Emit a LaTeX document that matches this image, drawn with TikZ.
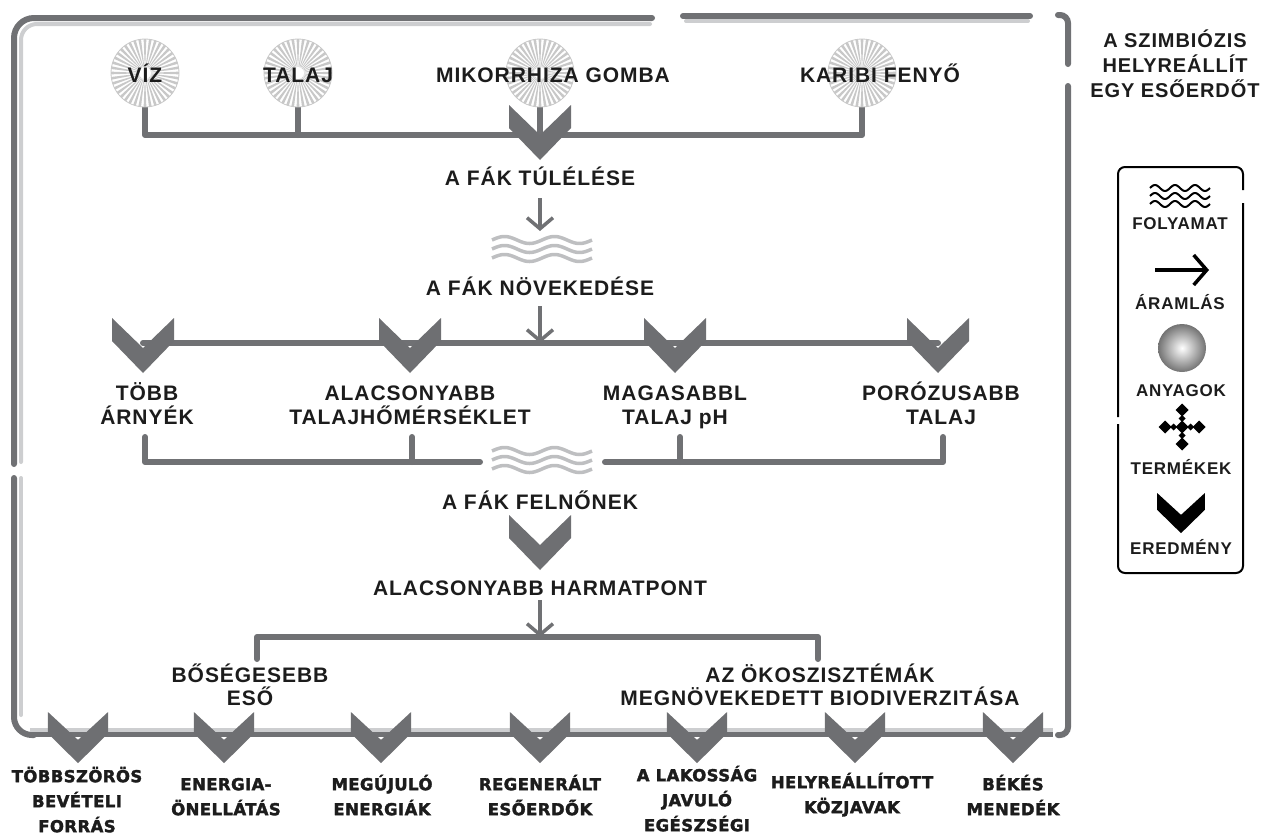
\documentclass[tikz,border=0pt]{standalone}
\usepackage{fontspec}
\setmainfont{Liberation Sans}
\newfontfamily\lab[LetterSpace=4.5]{Liberation Sans}
\newfontfamily\botf[LetterSpace=2.5, FakeBold=2]{DejaVu Sans Bold}
\usetikzlibrary{arrows.meta}
\definecolor{lineg}{RGB}{112,113,116}
\definecolor{lightg}{RGB}{205,206,208}
\definecolor{waveg}{RGB}{190,191,193}
\definecolor{chevc}{RGB}{110,111,114}
\definecolor{rayg}{RGB}{200,200,200}
\definecolor{txt}{RGB}{28,28,28}
\tikzset{
 lbl/.style={font=\lab\bfseries\fontsize{21}{23.5}\selectfont, text=txt, align=center, inner sep=0pt},
 bot/.style={font=\botf\fontsize{16.5}{25}\selectfont, text=txt, align=center, inner sep=0pt, anchor=north},
 leg/.style={font=\lab\bfseries\fontsize{17}{20}\selectfont, text=txt, inner sep=0pt, anchor=base},
 conn/.style={draw=lineg, line width=6pt, line cap=round, line join=round},
 fdark/.style={draw=lineg, line width=6pt, line cap=round},
 flight/.style={draw=lightg, line width=4pt, line cap=round},
 sarrow/.style={draw=lineg, line width=3.5pt, -{Straight Barb[length=11pt,width=26pt]}},
 chev/.pic={\path[pic actions] (-31,0) -- (0,30) -- (31,0) -- (31,23) -- (0,55) -- (-31,23) -- cycle;},
 burst/.pic={
   \fill[white] (0,0) circle[radius=34];
   \foreach \a in {0,9,...,351}{\fill[rayg] (0,0) -- (\a-2.3:34) -- (\a+2.3:34) -- cycle;}
   \fill[white] (0,0) circle[radius=6];
   \draw[rayg, line width=0.8pt] (0,0) circle[radius=34];
 },
 wave/.pic={\foreach \dy in {0,9,18}{\draw[pic actions] plot[domain=0:100,samples=70,smooth] (\x,{\dy-3.5*sin(\x*7.2)});}},
}
\begin{document}
\begin{tikzpicture}[x=1pt,y=-1pt]
\useasboundingbox (0,0) rectangle (1266,836);

% ---------- frame ----------
\draw[flight, rounded corners=16] (21,462) -- (21,24) -- (650,24);
\draw[fdark, rounded corners=20] (14,464) -- (14,18) -- (652,18);
\draw[flight] (686,21) -- (1028,21);
\draw[fdark] (683,16) -- (1030,16);
\draw[fdark, rounded corners=8] (1058,15) -- (1068,15) -- (1068,64);
\draw[fdark, rounded corners=8] (1068,86) -- (1068,735) -- (1058,735);
\draw[flight] (21,478) -- (21,715);
\draw[fdark, rounded corners=18] (14,478) -- (14,735) -- (34,735);
\coordinate (bl) at (30,730);
\coordinate (br) at (1053,730);
\draw[draw=lightg, line width=4pt] (bl) -- (br);
\draw[draw=lineg, line width=5pt] ([yshift=-4.5pt]bl) -- ([yshift=-4.5pt]br);

% ---------- top: materials ----------
\coordinate (cviz) at (145,73);
\coordinate (ctal) at (298,73);
\coordinate (cmik) at (540,73);
\coordinate (ckar) at (862,73);
\coordinate (bus1) at (0,135);
\draw[conn] (cviz) ++(0,34) -- (cviz |- bus1) -- (ckar |- bus1) -- ++(0,-28);
\draw[conn] (ctal) ++(0,34) -- (ctal |- bus1);
\draw[conn] (cmik) ++(0,34) -- (cmik |- bus1);
\pic at (cviz) {burst};
\pic at (ctal) {burst};
\pic at (cmik) {burst};
\pic at (ckar) {burst};
\pic[fill=chevc] at (540,105) {chev};
\node[lbl, anchor=base] (viz) at (145,82.5) {VÍZ};
\node[lbl, anchor=base] (talaj) at (298,82.5) {TALAJ};
\node[lbl, anchor=base] (mik) at (553,82.5) {MIKORRHIZA GOMBA};
\node[lbl, anchor=base] (kar) at (880,82.5) {KARIBI FENYŐ};

% ---------- survival / growth ----------
\node[lbl, anchor=base] (tul) at (540,185.5) {A FÁK TÚLÉLÉSE};
\coordinate (a1s) at (540,198);
\coordinate (a1e) at (540,231);
\draw[sarrow] (a1s) -- (a1e);
\pic[draw=waveg, line width=3.5pt] at (492,240) {wave};
\node[lbl, anchor=base] (nov) at (540,295.5) {A FÁK NÖVEKEDÉSE};
\coordinate (bus2) at (0,343);
\coordinate (a2s) at (540,306);
\draw[conn] (143,343) -- (938,343);
\draw[sarrow] (a2s) -- (a2s |- bus2);
\foreach \cx in {143,410,675,938}{\pic[fill=chevc] at (\cx,318) {chev};}

\node[lbl, anchor=north] (arny) at (147,379.5) {\rule{0pt}{21pt}TÖBB\\ÁRNYÉK};
\node[lbl, anchor=north] (hom) at (410,379.5) {\rule{0pt}{21pt}ALACSONYABB\\TALAJHŐMÉRSÉKLET};
\node[lbl, anchor=north] (ph) at (675,379.5) {\rule{0pt}{21pt}MAGASABBL\\TALAJ pH};
\node[lbl, anchor=north] (por) at (941,379.5) {\rule{0pt}{21pt}PORÓZUSABB\\TALAJ};

% ---------- bracket to maturity ----------
\draw[conn] (145,437) -- (145,462) -- (480,462);
\draw[conn] (412,437) -- (412,462);
\draw[conn] (605,462) -- (943,462) -- (943,437);
\draw[conn] (680,437) -- (680,462);
\pic[draw=waveg, line width=3.5pt] at (492,451) {wave};
\node[lbl, anchor=base] (feln) at (540,509.5) {A FÁK FELNŐNEK};
\pic[fill=chevc] at (540,515) {chev};
\node[lbl, anchor=base] (harm) at (540,595.5) {ALACSONYABB HARMATPONT};
\coordinate (a3s) at (540,600);
\coordinate (bus4) at (0,637);
\draw[sarrow] (a3s) -- (a3s |- bus4);
\draw[conn] (257,659) -- (257,637) -- (818,637) -- (818,659);
\node[lbl, anchor=north] (eso) at (250,661) {\rule{0pt}{21pt}BŐSÉGESEBB\\ESŐ};
\node[lbl, anchor=north] (biod) at (820,661) {\rule{0pt}{21pt}AZ ÖKOSZISZTÉMÁK\\MEGNÖVEKEDETT BIODIVERZITÁSA};

% ---------- outcomes ----------
\foreach \cx in {78,224,381,540,697,855,1013}{\pic[fill=chevc, xscale=0.97, yscale=0.93] at (\cx,712) {chev};}
\node[bot] (o1) at (77,765) {\rule{0pt}{17pt}TÖBBSZÖRÖS\\BEVÉTELI\\FORRÁS};
\node[bot] (o2) at (226,773) {\rule{0pt}{17pt}ENERGIA-\\ÖNELLÁTÁS};
\node[bot] (o3) at (382,773) {\rule{0pt}{17pt}MEGÚJULÓ\\ENERGIÁK};
\node[bot] (o4) at (540,773) {\rule{0pt}{17pt}REGENERÁLT\\ESŐERDŐK};
\node[bot] (o5) at (697,764) {\rule{0pt}{17pt}A LAKOSSÁG\\JAVULÓ\\EGÉSZSÉGI};
\node[bot] (o6) at (852,771) {\rule{0pt}{17pt}HELYREÁLLÍTOTT\\KÖZJAVAK};
\node[bot] (o7) at (1013,773) {\rule{0pt}{17pt}BÉKÉS\\MENEDÉK};

% ---------- title ----------
\node[font=\lab\bfseries\fontsize{20}{25}\selectfont, text=txt, align=center, inner sep=0pt, anchor=north] (title) at (1175,27) {\rule{0pt}{20pt}A SZIMBIÓZIS\\HELYREÁLLÍT\\EGY ESŐERDŐT};

% ---------- legend ----------
\draw[black, line width=2pt, rounded corners=7] (1243,190) -- (1243,167) -- (1118,167) -- (1118,417);
\draw[black, line width=2pt, rounded corners=7] (1118,424) -- (1118,573) -- (1243,573) -- (1243,203);
\foreach \dy in {0,8,16}{\draw[black, line width=2pt, shift={(1150,188+\dy)}] plot[domain=0:60,samples=60,smooth] (\x,{-3*sin(\x*18)});}
\node[leg] (lf) at (1180,229) {FOLYAMAT};
\coordinate (las) at (1155,270);
\coordinate (lae) at (1209,270);
\draw[black, line width=3.5pt, -{Straight Barb[length=13pt,width=30pt]}] (las) -- (lae);
\node[leg] (la) at (1180,309) {ÁRAMLÁS};
\shade[inner color=white, outer color=black!55] (1182,348) circle[radius=24];
\node[leg] (lan) at (1181,396) {ANYAGOK};
\foreach \dx/\dy in {0/-17,-17/0,0/0,17/0,0/17}{\fill[black, shift={(1182+\dx,427+\dy)}] (-6.5,0) -- (0,-6.5) -- (6.5,0) -- (0,6.5) -- cycle;}
\foreach \dx/\dy in {0/-8.5,-8.5/0,8.5/0,0/8.5}{\fill[black, shift={(1182+\dx,427+\dy)}] (-3.5,0) -- (0,-3.5) -- (3.5,0) -- (0,3.5) -- cycle;}
\node[leg] (lt) at (1181,474) {TERMÉKEK};
\pic[fill=black, xscale=0.77, yscale=0.73] at (1181,493) {chev};
\node[leg] (le) at (1181,554) {EREDMÉNY};
\end{tikzpicture}
\end{document}
